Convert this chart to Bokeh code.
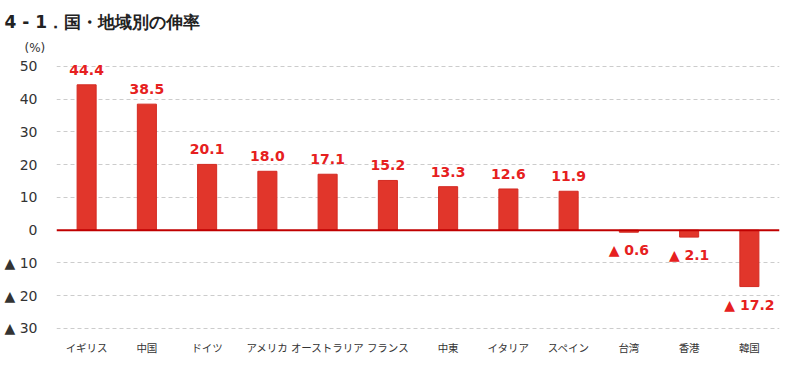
from bokeh.plotting import figure
from bokeh.models import FactorRange, Range1d, FixedTicker, Span, Title, ColumnDataSource
from bokeh.core.properties import value
from bokeh.embed import file_html
from bokeh.resources import INLINE

categories = ["イギリス", "中国", "ドイツ", "アメリカ", "オーストラリア", "フランス",
              "中東", "イタリア", "スペイン", "台湾", "香港", "韓国"]
growth = [44.4, 38.5, 20.1, 18.0, 17.1, 15.2, 13.3, 12.6, 11.9, -0.6, -2.1, -17.2]
y_ticks = [-30, -20, -10, 0, 10, 20, 30, 40, 50]
y_tick_labels = ["▲ 30", "▲ 20", "▲ 10", "0", "10", "20", "30", "40", "50"]
title_text = "4 - 1．国・地域別の伸率"
unit_text = "(%)"

BAR = "#E1362B"
LAB = "#E62020"
JP = "Noto Sans CJK JP"
NUM = "DejaVu Sans"

p = figure(width=784, height=362, output_backend="svg", toolbar_location=None,
           x_range=FactorRange(*categories, range_padding=0),
           y_range=Range1d(-31.53, 53.66),
           min_border_left=56, min_border_right=5, min_border_top=54, min_border_bottom=29)
p.outline_line_color = None
p.background_fill_color = "white"
p.border_fill_color = "white"

pos_lbl = [f"{v:.1f}" if v >= 0 else "" for v in growth]
neg_lbl = [f"▲ {abs(v):.1f}" if v < 0 else "" for v in growth]
src = ColumnDataSource(dict(x=categories, top=growth, pos=pos_lbl, neg=neg_lbl))

p.vbar(x="x", top="top", bottom=0, width=0.316, source=src,
       fill_color=BAR, line_color="#D42A22", line_width=1)

p.text(x="x", y="top", text="pos", source=src, text_align="center", text_baseline="bottom",
       y_offset=-10, text_color=LAB, text_font=value(NUM), text_font_style="bold",
       text_font_size="14px")
p.text(x="x", y="top", text="neg", source=src, text_align="center", text_baseline="top",
       y_offset=10, text_color=LAB, text_font=value(NUM), text_font_style="bold",
       text_font_size="14px")

p.add_layout(Span(location=0, dimension="width", line_color="#C00000", line_width=2))

# axes
p.yaxis.ticker = FixedTicker(ticks=y_ticks)
p.yaxis.major_label_overrides = {t: l for t, l in zip(y_ticks, y_tick_labels)}
p.yaxis.axis_line_color = None
p.yaxis.major_tick_line_color = None
p.yaxis.minor_tick_line_color = None
p.yaxis.major_label_text_font = NUM
p.yaxis.major_label_text_font_size = "14px"
p.yaxis.major_label_text_color = "#333333"
p.yaxis.major_label_standoff = 13

p.xaxis.axis_line_color = None
p.xaxis.major_tick_line_color = None
p.xaxis.minor_tick_line_color = None
p.xaxis.major_label_text_font = JP
p.xaxis.major_label_text_font_size = "10.5px"
p.xaxis.major_label_text_color = "#333333"
p.xaxis.major_label_standoff = 0

p.xgrid.grid_line_color = None
p.ygrid.ticker = FixedTicker(ticks=[t for t in y_ticks if t != 0])
p.ygrid.grid_line_color = "#CCCCCC"
p.ygrid.grid_line_dash = "4 3"
p.ygrid.grid_line_width = 1

p.title.text = title_text
p.title.align = "left"
p.title.vertical_align = "top"
p.title.offset = -52
p.title.text_font = NUM
p.title.text_font_style = "bold"
p.title.text_font_size = "17px"
p.title.text_color = "#222222"
p.title.standoff = 10

p.add_layout(Title(text=unit_text, align="left", offset=-32, text_font=NUM,
                   text_font_style="normal", text_font_size="12px", text_color="#333333",
                   standoff=0), "above")

open("out.html", "w").write(file_html(p, INLINE))
